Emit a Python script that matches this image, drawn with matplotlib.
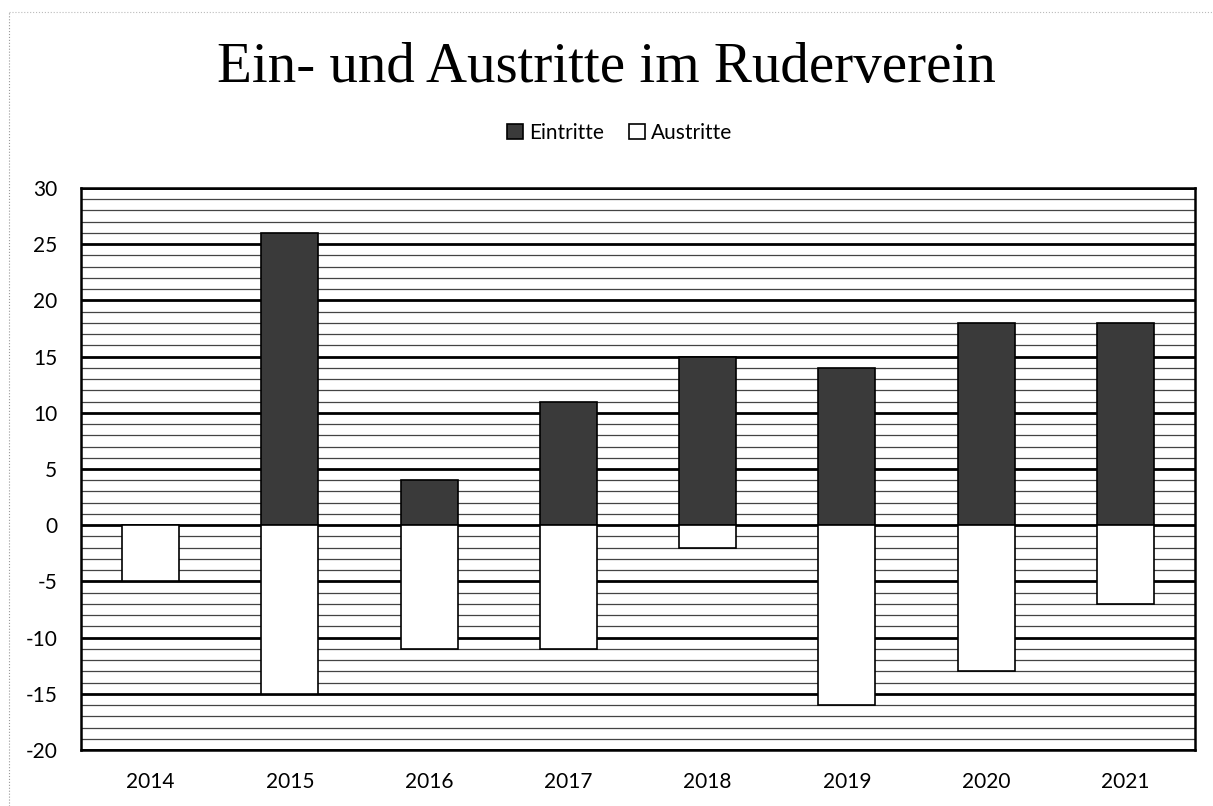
import numpy as np
import matplotlib.pyplot as plt
from matplotlib.lines import Line2D

# Data
years = ["2014", "2015", "2016", "2017", "2018", "2019", "2020", "2021"]
eintritte = [0, 26, 4, 11, 15, 14, 18, 18]
austritte = [-5, -15, -11, -11, -2, -16, -13, -7]

label_font = ["Lato", "DejaVu Sans"]
plt.rcParams["axes.unicode_minus"] = False

fig = plt.figure(figsize=(12.13, 8.06), dpi=100)
ax = fig.add_axes([81 / 1213, 1 - 750 / 806, 1114 / 1213, 562 / 806])

x = np.arange(len(years))

# minor and major horizontal gridlines
for v in range(-20, 31):
    if v % 5 == 0:
        ax.axhline(v, color="black", lw=2.0, zorder=1)
    else:
        ax.axhline(v, color="#444444", lw=0.9, zorder=1)

ax.bar(x, eintritte, width=0.41, color="#3a3a3a", edgecolor="black",
       linewidth=1.2, zorder=3, label="Eintritte")
ax.bar(x, austritte, width=0.41, color="white", edgecolor="black",
       linewidth=1.2, zorder=3, label="Austritte")

ax.set_xlim(-0.5, len(years) - 0.5)
ax.set_ylim(-20, 30)
ax.set_yticks(range(-20, 31, 5))
ax.set_xticks(x)
ax.set_xticklabels(years)
ax.tick_params(length=0, labelsize=15)
ax.tick_params(axis="x", pad=16)
ax.tick_params(axis="y", pad=17)
for lbl in ax.get_xticklabels() + ax.get_yticklabels():
    lbl.set_family(label_font)
for s in ax.spines.values():
    s.set_linewidth(1.8)
    s.set_color("black")
    s.set_zorder(4)

fig.text(0.5, 1 - 68 / 806, "Ein- und Austritte im Ruderverein",
         ha="center", va="center", fontsize=41, family="Liberation Serif")

leg = fig.legend(loc="center", bbox_to_anchor=(0.511, 1 - 133 / 806), ncol=2,
                 frameon=False, prop={"family": label_font, "size": 15},
                 handlelength=0.75, handleheight=0.75, handletextpad=0.3,
                 columnspacing=1.2)

# thin dotted chart border (left and top)
fig.add_artist(Line2D([9 / 1213, 9 / 1213], [0, 1 - 12 / 806], color="#999999",
                      lw=0.8, ls=":", transform=fig.transFigure))
fig.add_artist(Line2D([9 / 1213, 1], [1 - 12 / 806, 1 - 12 / 806], color="#bbbbbb",
                      lw=0.8, ls=":", transform=fig.transFigure))

fig.savefig("out.png", dpi=100)
